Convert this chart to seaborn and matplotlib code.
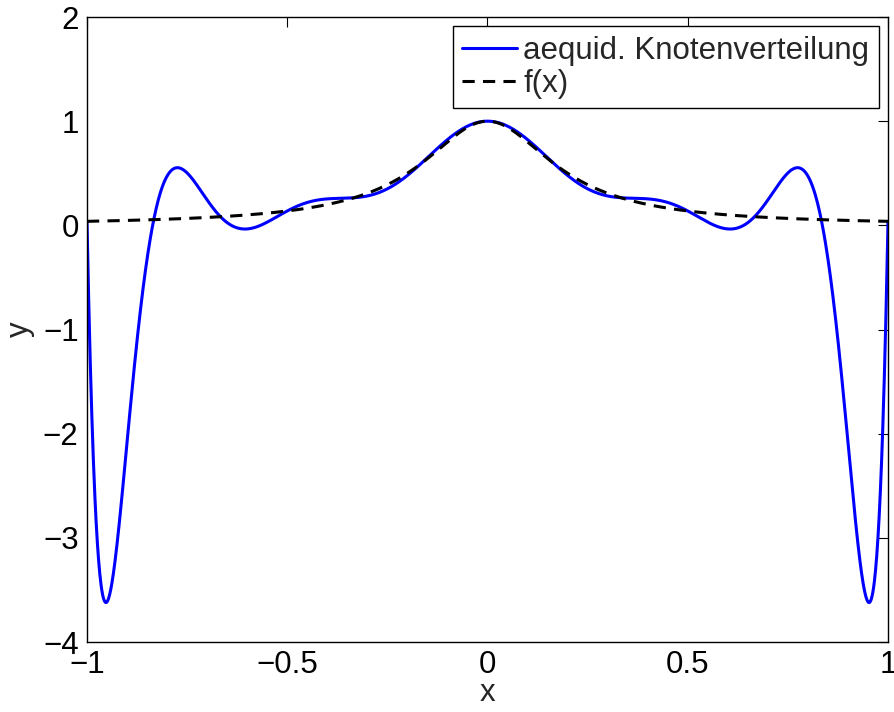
import numpy as np
import pandas as pd
import matplotlib
matplotlib.use("Agg")
import matplotlib.pyplot as plt
import seaborn as sns

# Equidistant interpolation nodes (13 nodes on [-1, 1]) and the Runge function values there
node_x = [-1.0, -5/6, -4/6, -3/6, -2/6, -1/6, 0.0, 1/6, 2/6, 3/6, 4/6, 5/6, 1.0]
def runge(x):
    return 1.0 / (1.0 + 25.0 * np.asarray(x) ** 2)
node_y = list(runge(node_x))

x_ticks = [-1, -0.5, 0, 0.5, 1]
y_ticks = [-4, -3, -2, -1, 0, 1, 2]
labels = ["aequid. Knotenverteilung", "f(x)"]

xs = np.linspace(-1, 1, 2001)
coef = np.polyfit(node_x, node_y, len(node_x) - 1)
p_vals = np.polyval(coef, xs)
f_vals = runge(xs)

df = pd.concat([
    pd.DataFrame({"x": xs, "y": p_vals, "s": labels[0]}),
    pd.DataFrame({"x": xs, "y": f_vals, "s": labels[1]}),
])

sns.set_theme(style="white")
plt.rcParams['font.family'] = ['Liberation Sans', 'DejaVu Sans']
plt.rcParams['axes.unicode_minus'] = True

FS = 22.5
fig = plt.figure(figsize=(8.95, 7.12), dpi=100)
ax = fig.add_axes([87/895, 70/712, 801/895, 625/712])

sns.lineplot(data=df, x="x", y="y", hue="s", style="s",
             palette={labels[0]: "#0000ff", labels[1]: "#000000"},
             dashes={labels[0]: "", labels[1]: (4, 2.7)},
             linewidth=2.2, ax=ax, sort=False, estimator=None)

ax.set_xlim(-1, 1)
ax.set_ylim(-4, 2)
ax.set_xticks(x_ticks)
ax.set_xticklabels(["\u22121", "\u22120.5", "0", "0.5", "1"])
ax.set_yticks(y_ticks)
ax.set_yticklabels(["\u22124", "\u22123", "\u22122", "\u22121", "0", "1", "2"])
ax.tick_params(direction="in", length=7, width=0.8, top=True, right=True,
               labelsize=FS, colors="black")
ax.tick_params(axis="x", pad=6)
ax.tick_params(axis="y", pad=6)
for sp in ax.spines.values():
    sp.set_color("black")
    sp.set_linewidth(1.0)
ax.set_xlabel("x", fontsize=FS, labelpad=-1.5)
ax.set_ylabel("y", fontsize=FS, labelpad=6)

leg = ax.legend(loc="upper right", fontsize=FS, frameon=True, fancybox=False,
                edgecolor="black", framealpha=1, borderaxespad=0.3,
                handlelength=1.75, handletextpad=0.2, borderpad=0.3,
                labelspacing=0.1)
leg.get_frame().set_linewidth(1.0)

fig.savefig("out.png", dpi=100, facecolor="white")
